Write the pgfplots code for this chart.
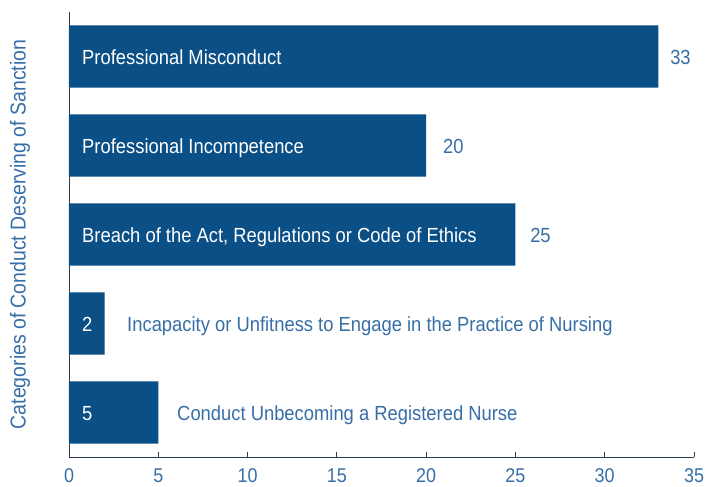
\documentclass[border=0pt]{standalone}
\usepackage{fontspec}
\setmainfont{Liberation Sans}
\newfontfamily\cond[FakeStretch=0.9]{Liberation Sans}
\usepackage{pgfplots}
\pgfplotsset{compat=1.18}
\definecolor{barblue}{RGB}{11,79,135}
\definecolor{txtblue}{RGB}{55,110,167}
\definecolor{axisc}{RGB}{45,60,80}
\begin{document}
\begin{tikzpicture}
\useasboundingbox (-69bp,-30bp) rectangle (637bp,457bp);
\begin{axis}[
  at={(0,0)}, anchor=south west,
  scale only axis, width=625bp, height=445bp,
  xmin=0, xmax=35, ymin=-0.5, ymax=4.5,
  axis x line*=bottom, axis y line*=left,
  axis line style={axisc, line width=0.9pt},
  xtick={0,5,...,35}, ytick=\empty,
  tick align=inside, major tick length=5bp,
  tick style={axisc, line width=0.9pt},
  /pgf/number format/assume math mode=true,
  xticklabel style={txtblue, font=\cond\fontsize{20}{22}\selectfont, yshift=-8bp},
  ylabel={Categories of Conduct Deserving of Sanction},
  ylabel style={txtblue, font=\cond\fontsize{21.7}{24}\selectfont, at={(axis description cs:-0.0784,0.5)}, anchor=center},
  xbar, bar width=0.70,
  clip=false,
]
\addplot[fill=barblue, draw=none] coordinates {(5,0) (2,1) (25,2) (20,3) (33,4)};
\tikzset{lab/.style={anchor=base west, inner sep=0pt, yshift=-8bp, font=\cond\fontsize{20.5}{22}\selectfont}}
\node[lab, white] at (axis cs:0.73,4) {Professional Misconduct};
\node[lab, white] at (axis cs:0.73,3) {Professional Incompetence};
\node[lab, white] at (axis cs:0.73,2) {Breach of the Act, Regulations or Code of Ethics};
\node[lab, white] at (axis cs:0.73,1) {2};
\node[lab, white] at (axis cs:0.73,0) {5};
\node[lab, txtblue] at (axis cs:33.66,4) {33};
\node[lab, txtblue] at (axis cs:20.94,3) {20};
\node[lab, txtblue] at (axis cs:25.82,2) {25};
\node[lab, txtblue] at (axis cs:3.25,1) {Incapacity or Unfitness to Engage in the Practice of Nursing};
\node[lab, txtblue] at (axis cs:6.05,0) {Conduct Unbecoming a Registered Nurse};
\end{axis}
\end{tikzpicture}
\end{document}
